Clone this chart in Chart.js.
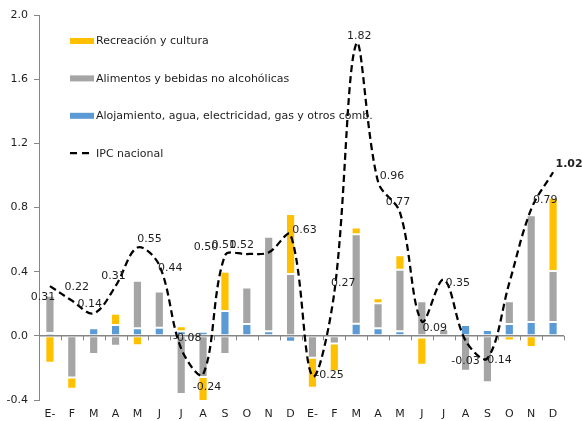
<!DOCTYPE html>
<html><head><meta charset="utf-8">
<script src="https://cdn.jsdelivr.net/npm/chart.js@4.4.1/dist/chart.umd.min.js"></script>
<style>html,body{margin:0;padding:0;background:#fff;}canvas{display:block;}</style>
</head><body>
<canvas id="c" width="582" height="421"></canvas>
<script>
// ---- data ----
const categories = ['E-','F','M','A','M','J','J','A','S','O','N','D','E-','F','M','A','M','J','J','A','S','O','N','D'];
const alojamiento = [0.017,0.0,0.048,0.068,0.048,0.05,0.029,0.025,0.155,0.073,0.029,-0.037,
                     0.0,0.015,0.075,0.048,0.029,-0.01,-0.012,0.068,0.036,0.074,0.087,0.087];
const alimentos   = [0.233,-0.26,-0.114,-0.062,0.296,0.226,-0.363,-0.257,-0.114,0.228,0.589,0.385,
                     -0.137,-0.048,0.559,0.155,0.383,0.216,0.041,-0.218,-0.29,0.141,0.665,0.317];
const recreacion  = [-0.168,-0.07,0.006,0.069,-0.058,0.01,0.031,-0.149,0.245,-0.01,-0.015,0.374,
                     -0.186,-0.172,0.041,0.031,0.09,-0.17,0,0,0.012,-0.029,-0.07,0.457];
const ipc         = [0.31,0.22,0.14,0.31,0.55,0.44,-0.08,-0.24,0.50,0.51,0.52,0.63,
                     -0.25,0.27,1.82,0.96,0.77,0.09,0.35,-0.03,-0.14,0.33,0.79,1.02];
const yTicks = [-0.4,0.0,0.4,0.8,1.2,1.6,2.0];
const seriesNames = ['Alojamiento, agua, electricidad, gas y otros comb.','Alimentos y bebidas no alcohólicas','Recreación y cultura','IPC nacional'];

// label placement (pixel offsets from each IPC point); null = no label
const labelOffsets = [[-7,11],[5,-13],[-4,-9],[-2,-10],[12,-8],[11,3],[6,-11],[4,13],[-19,-8],[-23,-9],[-27,-7],[14,-5],
                      [17,-1],[9,-9],[3,-8],[14,-6],[-2,-10],[13,7],[14,3],[0,20],[10,2],null,[14,-9],[16,-8]];

const FONT = '"DejaVu Sans", Verdana, sans-serif';
const AXIS = '#868686';
const TXT = '#1e1e1e';
const colors = ['#5B9BD5','#A5A5A5','#FFC000','#000000'];

const zeroAxis = {
  id:'zeroAxis',
  beforeDatasetDraw(chart,args){
    if(args.index!==3) return;
    const {ctx, chartArea} = chart;
    const x = chart.scales.x, y = chart.scales.y;
    const y0 = y.getPixelForValue(0);
    ctx.save();
    ctx.strokeStyle = AXIS; ctx.lineWidth = 1.5;
    ctx.beginPath(); ctx.moveTo(chartArea.left,y0); ctx.lineTo(chartArea.right,y0); ctx.stroke();
    ctx.lineWidth = 1;
    const n = categories.length, w = (chartArea.right-chartArea.left)/n;
    ctx.beginPath();
    for(let i=0;i<=n;i++){ const xx = Math.round(chartArea.left+i*w)+0.5; ctx.moveTo(xx,y0); ctx.lineTo(xx,y0+4.5); }
    ctx.stroke();
    ctx.restore();
  }
};

const ipcLabels = {
  id:'ipcLabels',
  afterDatasetsDraw(chart){
    const meta = chart.getDatasetMeta(3);
    const ctx = chart.ctx;
    ctx.save();
    ctx.textAlign='center'; ctx.textBaseline='middle'; ctx.fillStyle=TXT;
    meta.data.forEach((pt,i)=>{
      const off = labelOffsets[i]; if(!off) return;
      ctx.font = (i===ipc.length-1?'bold ':'')+'11px '+FONT;
      ctx.fillText(ipc[i].toFixed(2), pt.x+off[0], pt.y+off[1]);
    });
    ctx.restore();
  }
};

const customLegend = {
  id:'customLegend',
  afterDraw(chart){
    const ctx = chart.ctx;
    const order = [2,1,0,3];
    const x0 = 70, y0 = 41, step = 37.4;
    ctx.save();
    ctx.font = '11px '+FONT; ctx.textBaseline='middle'; ctx.textAlign='left'; ctx.fillStyle=TXT;
    order.forEach((di,k)=>{
      const ds = chart.data.datasets[di];
      const yy = y0 + k*step;
      if(ds.type==='line'){
        ctx.strokeStyle='#000'; ctx.lineWidth=2.25; ctx.setLineDash([7,5]);
        ctx.beginPath(); ctx.moveTo(x0,yy); ctx.lineTo(x0+23,yy); ctx.stroke(); ctx.setLineDash([]);
      } else {
        ctx.fillStyle = ds.backgroundColor; ctx.fillRect(x0,yy-3,24,6);
      }
      ctx.fillStyle=TXT;
      ctx.fillText(ds.label, x0+26, yy+0.5);
    });
    ctx.restore();
  }
};

const barCommon = {type:'bar', stack:'s', order:1, borderColor:'rgba(255,255,255,0.45)', borderWidth:1, borderSkipped:false,
  categoryPercentage:1.0, barPercentage:0.42};

new Chart(document.getElementById('c'),{
  data:{
    labels: categories,
    datasets:[
      Object.assign({label:seriesNames[0], data:alojamiento, backgroundColor:colors[0]}, barCommon),
      Object.assign({label:seriesNames[1], data:alimentos, backgroundColor:colors[1]}, barCommon),
      Object.assign({label:seriesNames[2], data:recreacion, backgroundColor:colors[2]}, barCommon),
      {type:'line', label:seriesNames[3], data:ipc, stack:'ipc', order:0, borderColor:colors[3], borderWidth:2.25,
       borderDash:[7,4], pointRadius:0, tension:0.35, fill:false}
    ]
  },
  options:{
    responsive:false, animation:false, devicePixelRatio:1,
    layout:{padding:{left:0,top:15,right:18,bottom:0}},
    plugins:{legend:{display:false}, tooltip:{enabled:false}},
    scales:{
      x:{ stacked:true, grid:{display:false, drawTicks:false}, border:{display:false},
          ticks:{font:{family:FONT,size:11}, color:TXT, padding:8, maxRotation:0, autoSkip:false},
          afterFit(s){ s.height = 21; } },
      y:{ stacked:true, min:-0.4, max:2.0,
          afterBuildTicks(s){ s.ticks = yTicks.map(v=>({value:v})); },
          grid:{drawOnChartArea:false, drawTicks:true, tickLength:5, tickColor:AXIS, color:AXIS},
          border:{display:true, color:AXIS, width:1},
          ticks:{font:{family:FONT,size:11}, color:TXT, padding:6, callback:v=>Number(v).toFixed(1)},
          afterFit(s){ s.width = 39; } }
    }
  },
  plugins:[zeroAxis, ipcLabels, customLegend]
});
</script>
</body></html>
